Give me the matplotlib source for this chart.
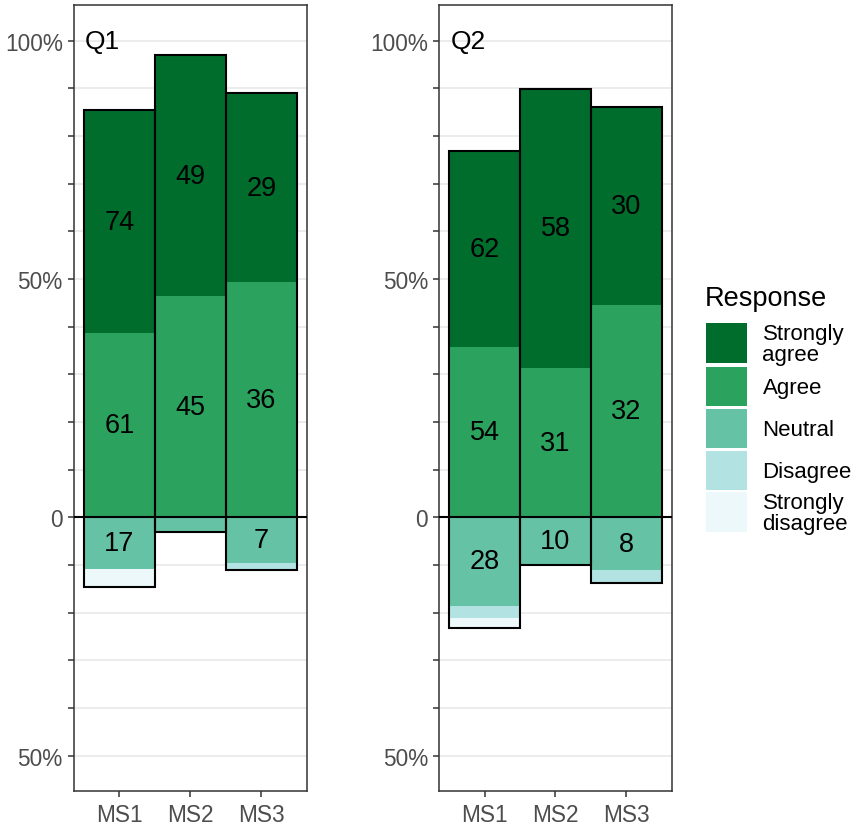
import numpy as np
import matplotlib.pyplot as plt
from matplotlib.patches import Rectangle

plt.rcParams['font.family'] = ['Liberation Sans', 'DejaVu Sans']

# Datos (conteos por nivel de respuesta)
categorias = ["MS1", "MS2", "MS3"]
niveles = ["Strongly disagree", "Disagree", "Neutral", "Agree", "Strongly agree"]
etiquetasLeyenda = ["Strongly\nagree", "Agree", "Neutral", "Disagree", "Strongly\ndisagree"]
colores = ["#edf8fb", "#b2e2e2", "#66c2a4", "#2ca25f", "#006d2c"]
preguntas = ["Q1", "Q2"]

q1SD = [6, 0, 0]
q1D = [0, 0, 1]
q1N = [17, 3, 7]
q1A = [61, 45, 36]
q1SA = [74, 49, 29]

q2SD = [3, 0, 0]
q2D = [4, 0, 2]
q2N = [28, 10, 8]
q2A = [54, 31, 32]
q2SA = [62, 58, 30]

datos = {
    "Q1": [q1SD, q1D, q1N, q1A, q1SA],
    "Q2": [q2SD, q2D, q2N, q2A, q2SA],
}

yTicks = np.arange(-50, 101, 10)
yLabels = ["50%" if t == -50 else "0" if t == 0 else f"{t}%" if t in (50, 100) else "" for t in yTicks]

W, H = 853, 828
fig = plt.figure(figsize=(W / 100, H / 100), dpi=100)

# posiciones de los paneles en pixeles (izq, der)
panelesX = [(74, 306.7), (439.3, 671.7)]
yTop, yBot = 6, 792.3
tamEtiqueta = 19.5

for p, (q, (x0, x1)) in enumerate(zip(preguntas, panelesX)):
    ax = fig.add_axes([x0 / W, 1 - yBot / H, (x1 - x0) / W, (yBot - yTop) / H])
    conteos = np.array(datos[q], dtype=float)
    totales = conteos.sum(axis=0)
    pct = conteos / totales * 100
    x = np.arange(1, len(categorias) + 1)

    # negativos: SD, D, N apilados hacia abajo desde 0 (N junto al cero)
    base = np.zeros(len(categorias))
    for nivel in [2, 1, 0]:
        ax.bar(x, -pct[nivel], bottom=base, width=1.0, color=colores[nivel], linewidth=0, zorder=2)
        for i in range(len(categorias)):
            if pct[nivel][i] > 5:
                ax.text(x[i], base[i] - pct[nivel][i] / 2, f"{int(conteos[nivel][i])}",
                        ha="center", va="center", fontsize=tamEtiqueta, zorder=5)
        base = base - pct[nivel]
    inferior = base.copy()

    base = np.zeros(len(categorias))
    for nivel in [3, 4]:
        ax.bar(x, pct[nivel], bottom=base, width=1.0, color=colores[nivel], linewidth=0, zorder=2)
        for i in range(len(categorias)):
            if pct[nivel][i] > 5:
                ax.text(x[i], base[i] + pct[nivel][i] / 2, f"{int(conteos[nivel][i])}",
                        ha="center", va="center", fontsize=tamEtiqueta, zorder=5)
        base = base + pct[nivel]
    superior = base.copy()

    # contorno de cada barra completa
    ax.bar(x, superior - inferior, bottom=inferior, width=1.0, fill=False,
           edgecolor="black", linewidth=1.5, zorder=3)
    ax.axhline(0, color="black", linewidth=1.5, zorder=4)

    ax.set_xlim(0.36, 3.64)
    ax.set_ylim(-57.5, 107.5)
    ax.set_xticks(x)
    ax.set_xticklabels(categorias)
    ax.set_yticks(yTicks)
    ax.set_yticklabels(yLabels)
    ax.tick_params(axis="both", labelsize=16.3, labelcolor="#4d4d4d", color="#333333",
                   length=4.1, width=1.1, pad=4)
    ax.grid(axis="y", color="#ebebeb", linewidth=1.3, zorder=0)
    ax.set_axisbelow(True)
    for s in ax.spines.values():
        s.set_color("#333333")
        s.set_linewidth(1.1)
    ax.text(0.515, 100, q, ha="left", va="center", fontsize=19)

# Leyenda manual
axLeg = fig.add_axes([0, 0, 1, 1])
axLeg.set_xlim(0, W)
axLeg.set_ylim(H, 0)
axLeg.axis("off")
axLeg.text(705, 299, "Response", fontsize=19.5, ha="left", va="center")
keysY = [324.3, 367.5, 409.8, 451.5, 493.3]
for k, (yk, lab) in enumerate(zip(keysY, etiquetasLeyenda)):
    col = colores[::-1][k]
    axLeg.add_patch(Rectangle((706, yk), 40.7, 39.5, facecolor=col, edgecolor="none"))
    axLeg.text(762.5, yk + 21, lab, fontsize=16, ha="left", va="center", linespacing=0.98)

fig.savefig("out.png", dpi=100)
